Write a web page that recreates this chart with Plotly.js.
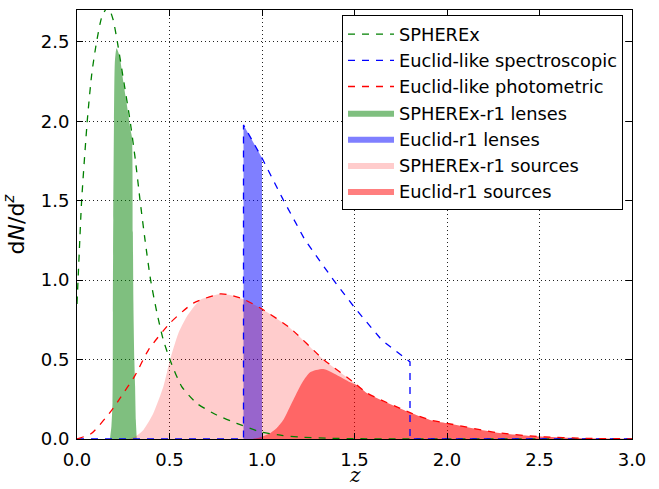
<!DOCTYPE html>
<html>
<head>
<meta charset="utf-8">
<script src="https://cdn.plot.ly/plotly-3.0.1.min.js"></script>
<style>html,body{margin:0;padding:0;background:#fff;}#chart{width:659px;height:489px;}</style>
</head>
<body>
<div id="chart"></div>
<script>
// SPHEREx dN/dz (green dashed)
const spherexZ = [0, 0.012, 0.025, 0.056, 0.08, 0.106, 0.135, 0.168, 0.195, 0.218, 0.25, 0.286, 0.315, 0.341, 0.368, 0.398, 0.431, 0.465, 0.503, 0.566, 0.647, 0.755, 0.863, 0.989, 1.1, 1.205, 1.35, 1.5, 1.75, 2.0, 2.5, 3.0];
const spherexN = [0.85, 1.17, 1.5, 2.01, 2.3, 2.5, 2.66, 2.72, 2.64, 2.5, 2.27, 2.01, 1.76, 1.5, 1.25, 1.0, 0.80, 0.63, 0.497, 0.33, 0.225, 0.151, 0.099, 0.046, 0.024, 0.012, 0.005, 0.002, 0.0, 0, 0, 0];
// Euclid-like spectroscopic (blue dashed)
const specZ = [0, 0.9, 0.9, 1.0, 1.115, 1.232, 1.386, 1.503, 1.647, 1.782, 1.8, 1.8, 3.0];
const specN = [0, 0, 1.977, 1.768, 1.505, 1.253, 1.001, 0.823, 0.623, 0.497, 0.485, 0, 0];
// Euclid-like photometric (red dashed)
const photZ = [0, 0.079, 0.187, 0.232, 0.314, 0.386, 0.503, 0.629, 0.773, 0.827, 0.9, 1.0, 1.15, 1.331, 1.503, 1.566, 1.8, 1.908, 2.0, 2.27, 2.5, 2.75, 3.0];
const photN = [0, 0.036, 0.18, 0.256, 0.40, 0.56, 0.73, 0.855, 0.913, 0.907, 0.88, 0.818, 0.70, 0.502, 0.35, 0.29, 0.166, 0.12, 0.099, 0.04, 0.015, 0.004, 0.001];
// SPHEREx-r1 lenses (green fill)
const sLensZ = [0.178, 0.186, 0.192, 0.194, 0.196, 0.2, 0.205, 0.214, 0.23, 0.25, 0.27, 0.29, 0.297, 0.302, 0.305, 0.31, 0.314, 0.318, 0.323];
const sLensN = [0, 0.08, 0.23, 0.8, 1.38, 2.0, 2.38, 2.46, 2.41, 2.25, 2.1, 1.94, 1.9, 1.3, 0.85, 0.5, 0.33, 0.12, 0];
// Euclid-r1 lenses (blue fill)
const eLensZ = [0.9, 0.9, 1.0, 1.0];
const eLensN = [0, 1.977, 1.768, 0];
// SPHEREx-r1 sources (pink fill)
const sSrcZ = [0.28, 0.314, 0.359, 0.412, 0.467, 0.503, 0.548, 0.593, 0.665, 0.74, 0.773, 0.827, 0.9, 1.0, 1.15, 1.331, 1.503, 1.566, 1.8, 1.908, 2.0, 2.27, 2.5, 2.75, 3.0];
const sSrcN = [0, 0.015, 0.057, 0.16, 0.33, 0.5, 0.666, 0.77, 0.875, 0.905, 0.913, 0.907, 0.88, 0.818, 0.70, 0.502, 0.35, 0.29, 0.166, 0.12, 0.099, 0.04, 0.015, 0.004, 0.001];
// Euclid-r1 sources (red fill)
const eSrcZ = [0.95, 0.99, 1.043, 1.08, 1.115, 1.169, 1.22, 1.26, 1.331, 1.404, 1.476, 1.52, 1.566, 1.8, 1.908, 2.0, 2.27, 2.5, 2.75, 3.0];
const eSrcN = [0, 0.01, 0.036, 0.07, 0.12, 0.246, 0.36, 0.42, 0.44, 0.403, 0.357, 0.335, 0.29, 0.166, 0.12, 0.099, 0.04, 0.015, 0.004, 0.001];

const xTicks = [0, 0.5, 1.0, 1.5, 2.0, 2.5, 3.0];
const yTicks = [0, 0.5, 1.0, 1.5, 2.0, 2.5];

const dash = '7px,7px';
function fillTrace(x, y, color, name, rank, shape) {
  return {x: x, y: y, type: 'scatter', mode: 'lines', fill: 'tozeroy', fillcolor: color,
          line: {width: 0, color: color, shape: shape || 'spline', smoothing: 0.6}, name: name, legendrank: rank, hoverinfo: 'skip'};
}
function lineTrace(x, y, color, name, rank, shape) {
  return {x: x, y: y, type: 'scatter', mode: 'lines',
          line: {width: 1.3, color: color, dash: dash, shape: shape || 'spline', smoothing: 0.6}, name: name, legendrank: rank, hoverinfo: 'skip'};
}

const traces = [
  fillTrace(sLensZ, sLensN, 'rgba(0,128,0,0.5)', 'SPHEREx-r1 lenses', 4),
  fillTrace(eLensZ, eLensN, 'rgba(0,0,255,0.5)', 'Euclid-r1 lenses', 5, 'linear'),
  fillTrace(sSrcZ, sSrcN, 'rgba(255,0,0,0.2)', 'SPHEREx-r1 sources', 6),
  fillTrace(eSrcZ, eSrcN, 'rgba(255,0,0,0.5)', 'Euclid-r1 sources', 7),
  lineTrace(spherexZ, spherexN, '#008000', 'SPHEREx', 1),
  lineTrace(specZ, specN, '#0000ff', 'Euclid-like spectroscopic', 2, 'linear'),
  lineTrace(photZ, photN, '#ff0000', 'Euclid-like photometric', 3)
];

const axisCommon = {
  showline: true, linecolor: '#000', linewidth: 1, mirror: 'allticks',
  ticks: 'inside', ticklen: 6, tickwidth: 1, tickcolor: '#000',
  showgrid: true, gridcolor: '#222', gridwidth: 1, griddash: '1px,3px',
  zeroline: false, tickformat: '.1f',
  tickfont: {family: 'DejaVu Sans', size: 18, color: '#000'}
};

const layout = {
  width: 659, height: 489,
  margin: {l: 77, r: 27, t: 10, b: 50},
  paper_bgcolor: '#fff', plot_bgcolor: '#fff',
  showlegend: true,
  xaxis: Object.assign({}, axisCommon, {range: [0, 3], tickvals: xTicks, ticklabelstandoff: 4}),
  yaxis: Object.assign({}, axisCommon, {range: [0, 2.7], tickvals: yTicks, ticklabelstandoff: 3,
    title: {text: 'd<i>N</i>/d<sup><i>z</i></sup>', font: {family: 'DejaVu Sans', size: 22, color: '#000'}, standoff: 10}}),
  annotations: [{
    text: '<i>z</i>', xref: 'paper', yref: 'paper', x: 0.5, y: -0.1166, xanchor: 'center', yanchor: 'bottom',
    showarrow: false, font: {family: 'DejaVu Serif', size: 20, color: '#000'}
  }],
  legend: {x: 0.9838, y: 0.988, xanchor: 'right', yanchor: 'top', bgcolor: '#fff', bordercolor: '#000', borderwidth: 1,
    font: {family: 'DejaVu Sans', size: 17.8, color: '#000'}, traceorder: 'normal', itemwidth: 46}
};

Plotly.newPlot('chart', traces, layout, {staticPlot: true, displayModeBar: false});
</script>
</body>
</html>
